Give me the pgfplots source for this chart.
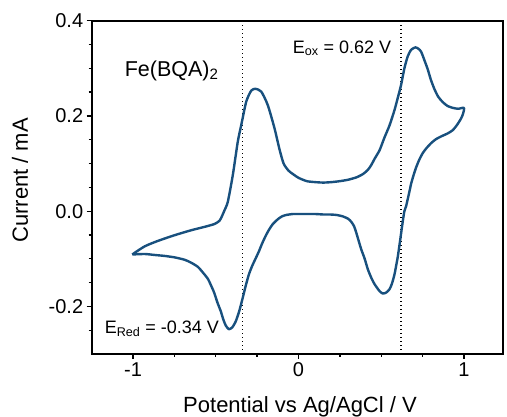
\documentclass[border=0pt]{standalone}
\usepackage{fontspec}
\setmainfont{Liberation Sans}
\usepackage{pgfplots}
\pgfplotsset{compat=1.18}
\definecolor{cvblue}{RGB}{24,80,126}
\begin{document}
\begin{tikzpicture}
\useasboundingbox (-91.7pt,-63pt) rectangle (415.3pt,354pt);
\begin{axis}[
  scale only axis, width=411.3pt, height=333.3pt,
  at={(0,0)}, anchor=south west,
  xmin=-1.25, xmax=1.236, ymin=-0.3, ymax=0.4,
  xtick={-1,0,1}, xticklabels={-1,0,1},
  ytick={-0.2,0,0.2,0.4}, yticklabels={-0.2,0.0,0.2,0.4},
  minor xtick={-0.75,-0.5,-0.25,0.25,0.5,0.75},
  minor ytick={-0.25,-0.15,-0.1,-0.05,0.05,0.1,0.15,0.25,0.3,0.35},
  tick align=outside, xtick pos=bottom, ytick pos=left,
  major tick length=5pt, minor tick length=3pt,
  every tick/.style={black, line width=1.3pt},
  axis line style={line width=1.8pt},
  /pgf/number format/assume math mode=true,
  ticklabel style={font=\fontsize{20}{22}\selectfont},
  xlabel={Potential vs Ag/AgCl / V},
  ylabel={Current / mA},
  xlabel style={at={(axis description cs:0.5065,-0.176)}, anchor=base, font=\fontsize{22}{24}\selectfont},
  ylabel style={at={(axis description cs:-0.155,0.521)}, anchor=base, font=\fontsize{22}{24}\selectfont},
  clip=false,
]
\addplot[black, line width=1.5pt, dash pattern=on 1.4pt off 2.6pt] coordinates {(-0.34,-0.3) (-0.34,0.4)};
\addplot[black, line width=1.5pt, dash pattern=on 1.4pt off 2.6pt] coordinates {(0.62,-0.3) (0.62,0.4)};
\addplot[cvblue, line width=2.4pt, smooth, tension=0.4, line join=round] coordinates {
(-1.005,-0.091) (-0.930,-0.074) (-0.850,-0.0625) (-0.749,-0.0505) (-0.648,-0.040)
(-0.568,-0.033) (-0.508,-0.027) (-0.477,-0.020) (-0.462,-0.010) (-0.447,0.002)
(-0.427,0.020) (-0.397,0.076) (-0.367,0.146) (-0.346,0.181) (-0.316,0.230)
(-0.286,0.253) (-0.260,0.257) (-0.225,0.251) (-0.186,0.223) (-0.145,0.174)
(-0.115,0.130) (-0.090,0.100) (-0.060,0.085) (-0.030,0.077) (0.000,0.070)
(0.050,0.063) (0.100,0.061) (0.150,0.060) (0.200,0.061) (0.250,0.063)
(0.300,0.066) (0.350,0.071) (0.390,0.078) (0.420,0.087) (0.440,0.097)
(0.460,0.110) (0.490,0.128) (0.520,0.155) (0.550,0.180) (0.580,0.212)
(0.600,0.238) (0.620,0.265) (0.640,0.300) (0.660,0.325) (0.681,0.339)
(0.707,0.344) (0.725,0.341) (0.741,0.335) (0.760,0.318) (0.781,0.298)
(0.800,0.276) (0.822,0.256) (0.845,0.240) (0.872,0.229) (0.900,0.221)
(0.932,0.217) (0.965,0.215) (1.000,0.217)
(0.995,0.205) (0.983,0.195) (0.960,0.182) (0.932,0.170) (0.900,0.163)
(0.862,0.157) (0.830,0.151) (0.802,0.143) (0.775,0.133) (0.751,0.122)
(0.730,0.108) (0.711,0.092) (0.695,0.075) (0.681,0.058) (0.671,0.042)
(0.660,0.025) (0.650,0.010) (0.640,0.000) (0.630,-0.022) (0.620,-0.047)
(0.610,-0.072) (0.600,-0.096) (0.590,-0.115) (0.580,-0.133) (0.565,-0.152)
(0.550,-0.164) (0.530,-0.171) (0.509,-0.173) (0.490,-0.168) (0.475,-0.161)
(0.459,-0.153) (0.440,-0.140) (0.419,-0.122) (0.400,-0.100) (0.379,-0.080)
(0.360,-0.058) (0.349,-0.045) (0.335,-0.031) (0.318,-0.022) (0.300,-0.016)
(0.268,-0.011) (0.230,-0.008) (0.187,-0.007) (0.150,-0.007) (0.100,-0.006)
(0.050,-0.006) (0.000,-0.006) (-0.034,-0.006) (-0.074,-0.008) (-0.100,-0.011)
(-0.125,-0.017) (-0.155,-0.027) (-0.180,-0.040) (-0.200,-0.053) (-0.220,-0.068)
(-0.240,-0.085) (-0.260,-0.100) (-0.280,-0.115) (-0.300,-0.133) (-0.320,-0.158)
(-0.340,-0.186) (-0.360,-0.212) (-0.380,-0.232) (-0.400,-0.244) (-0.421,-0.248)
(-0.440,-0.240) (-0.455,-0.227) (-0.470,-0.210) (-0.490,-0.192) (-0.510,-0.171)
(-0.530,-0.155) (-0.548,-0.142) (-0.580,-0.128) (-0.608,-0.117) (-0.650,-0.108)
(-0.689,-0.102) (-0.750,-0.097) (-0.810,-0.094) (-0.870,-0.092) (-0.930,-0.090)
(-1.005,-0.091)
};
\node[anchor=base west, inner sep=0pt, font=\fontsize{21.5}{23}\selectfont] at (axis cs:-1.051,0.283) {Fe(BQA)\textsubscript{2}};
\node[anchor=base west, inner sep=0pt, font=\fontsize{18}{20}\selectfont] at (axis cs:-0.036,0.332) {E\textsubscript{ox} = 0.62 V};
\node[anchor=base west, inner sep=0pt, font=\fontsize{18}{20}\selectfont] at (axis cs:-1.172,-0.2575) {E\textsubscript{Red} = -0.34 V};
\end{axis}
\end{tikzpicture}
\end{document}
